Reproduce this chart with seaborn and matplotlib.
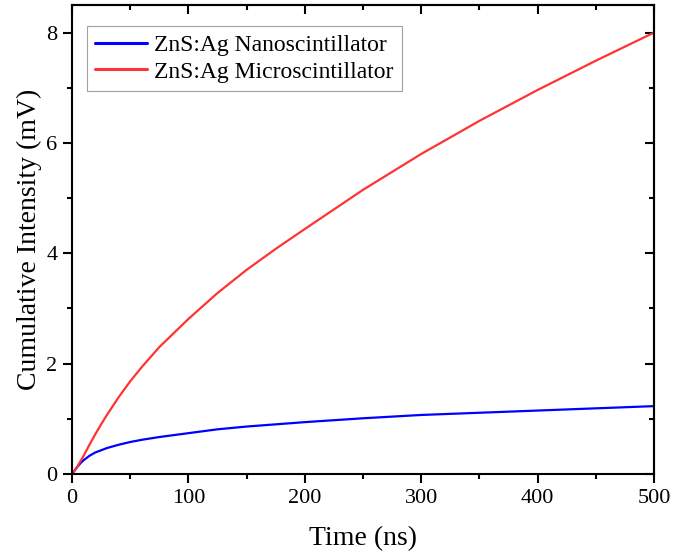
import matplotlib
matplotlib.use("Agg")
import matplotlib.pyplot as plt
import seaborn as sns
import pandas as pd
from matplotlib.ticker import MultipleLocator

time_ns = [0, 2.5, 5, 7.5, 10, 15, 20, 25, 30, 40, 50, 60, 75, 100, 125, 150, 175,
           200, 250, 300, 350, 400, 450, 500]
nano = [0, 0.07, 0.14, 0.20, 0.25, 0.33, 0.39, 0.43, 0.47, 0.53, 0.58, 0.62, 0.67,
        0.74, 0.81, 0.86, 0.90, 0.94, 1.01, 1.07, 1.11, 1.15, 1.19, 1.23]
micro = [0, 0.07, 0.15, 0.24, 0.33, 0.53, 0.72, 0.90, 1.07, 1.39, 1.68, 1.94, 2.30,
         2.81, 3.28, 3.70, 4.08, 4.44, 5.15, 5.80, 6.40, 6.96, 7.49, 8.0]
labels = ["ZnS:Ag Nanoscintillator", "ZnS:Ag Microscintillator"]
colors = ["#0000FF", "#FF3333"]

df = pd.concat([
    pd.DataFrame({"t": time_ns, "v": nano, "s": labels[0]}),
    pd.DataFrame({"t": time_ns, "v": micro, "s": labels[1]}),
])

sns.set_style("ticks")
plt.rcParams["font.family"] = ["Liberation Serif", "DejaVu Serif"]
plt.rcParams["text.color"] = "black"
plt.rcParams["axes.labelcolor"] = "black"
plt.rcParams["xtick.color"] = "black"
plt.rcParams["ytick.color"] = "black"
plt.rcParams["lines.solid_joinstyle"] = "round"

fig = plt.figure(figsize=(6.88, 5.58), dpi=100)
ax = fig.add_axes([72/688, 1-474/558, (654-72)/688, (474-5)/558])
sns.lineplot(data=df, x="t", y="v", hue="s", palette=colors, hue_order=labels,
             linewidth=1.6, ax=ax, legend=True)

ax.set_xlim(0, 500)
ax.set_ylim(0, 8.5)
ax.xaxis.set_major_locator(MultipleLocator(100))
ax.xaxis.set_minor_locator(MultipleLocator(50))
ax.yaxis.set_major_locator(MultipleLocator(2))
ax.yaxis.set_minor_locator(MultipleLocator(1))
for sp in ax.spines.values():
    sp.set_visible(True)
    sp.set_linewidth(1.5)
    sp.set_color("black")
ax.tick_params(which="both", bottom=True, left=True, top=False, right=False, direction="out",
               width=1.5, color="black", labelcolor="black")
ax.tick_params(which="major", length=6.5, labelsize=16, pad=4)
ax.tick_params(which="minor", length=3.5)
ax2x = ax.secondary_xaxis("top")
ax2x.xaxis.set_major_locator(MultipleLocator(100))
ax2x.xaxis.set_minor_locator(MultipleLocator(50))
ax2x.tick_params(which="both", direction="in", width=1.5, labeltop=False, color="black")
ax2x.tick_params(which="major", length=6.5)
ax2x.tick_params(which="minor", length=3.5)
ax2x.spines["top"].set_linewidth(1.5)
ax2y = ax.secondary_yaxis("right")
ax2y.yaxis.set_major_locator(MultipleLocator(2))
ax2y.yaxis.set_minor_locator(MultipleLocator(1))
ax2y.tick_params(which="both", direction="in", width=1.5, labelright=False, color="black")
ax2y.tick_params(which="major", length=6.5)
ax2y.tick_params(which="minor", length=3.5)
ax2y.spines["right"].set_linewidth(1.5)

ax.set_xlabel("Time (ns)", fontsize=20, labelpad=13, color="black")
ax.set_ylabel("Cumulative Intensity (mV)", fontsize=20, labelpad=3, color="black")

leg = ax.legend(loc="upper left", bbox_to_anchor=(15/582, 1-21/469), fontsize=17,
                frameon=True, fancybox=False, edgecolor="#A0A0A0", framealpha=1,
                handlelength=2.2, borderpad=0.35, labelspacing=0.22, handletextpad=0.3,
                borderaxespad=0)
leg.get_frame().set_linewidth(0.8)
for line in leg.get_lines():
    line.set_linewidth(2.2)
for t in leg.get_texts():
    t.set_color("black")

fig.savefig("out.png", dpi=100)
